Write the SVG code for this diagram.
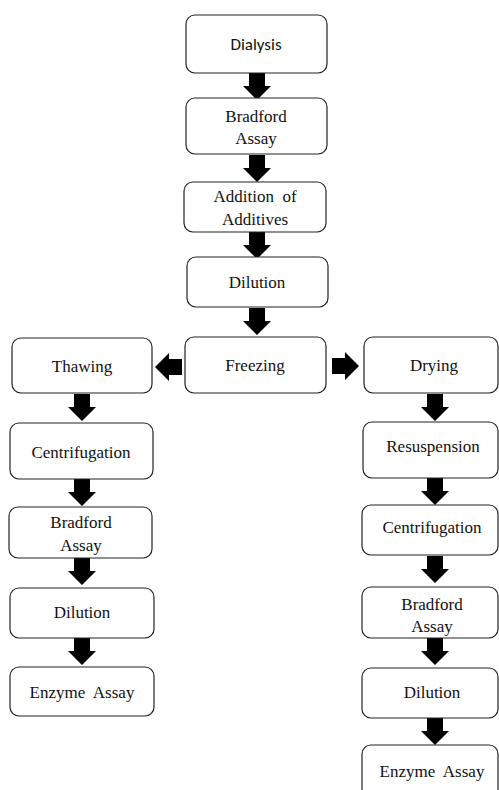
<svg xmlns="http://www.w3.org/2000/svg" width="499" height="790" viewBox="0 0 499 790">
<style>
.box{fill:#fff;stroke:#222;stroke-width:1.2}
.t{font-family:"Liberation Serif","Times New Roman",serif;font-size:17px;fill:#111;text-anchor:middle}
.s{font-family:"Carlito","Liberation Sans",Arial,sans-serif;font-size:17px;fill:#111;text-anchor:middle}
.ar{fill:#000}
</style>
<defs>
<path id="dn" d="M-8,0 H8 V13 H14 L0,27 L-14,13 H-8 Z"/>
</defs>
<rect width="499" height="790" fill="#fff"/>
<g id="connectors">
<use href="#dn" class="ar" x="257" y="73"/>
<use href="#dn" class="ar" x="257" y="155"/>
<use href="#dn" class="ar" x="257" y="232"/>
<use href="#dn" class="ar" x="257" y="308"/>
<use href="#dn" class="ar" transform="translate(182,367) rotate(90)"/>
<use href="#dn" class="ar" transform="translate(332,366) rotate(-90)"/>
<use href="#dn" class="ar" x="82" y="394"/>
<use href="#dn" class="ar" x="82" y="479"/>
<use href="#dn" class="ar" x="82" y="558"/>
<use href="#dn" class="ar" x="82" y="638"/>
<use href="#dn" class="ar" x="435" y="394"/>
<use href="#dn" class="ar" x="435" y="478"/>
<use href="#dn" class="ar" x="435" y="556"/>
<use href="#dn" class="ar" x="435" y="638"/>
<use href="#dn" class="ar" x="435" y="718"/>
</g>
<g id="dialysis"><rect class="box" x="186" y="15" width="141" height="58" rx="9"/><text class="s" x="256" y="50">Dialysis</text></g>
<g id="bradford1"><rect class="box" x="186" y="98" width="141" height="56" rx="9"/><text class="t" x="256" y="122">Bradford</text><text class="t" x="256" y="144">Assay</text></g>
<g id="additives"><rect class="box" x="184" y="182" width="142" height="50" rx="9"/><text class="t" x="255" y="202" xml:space="preserve">Addition  of</text><text class="t" x="255" y="225">Additives</text></g>
<g id="dilution1"><rect class="box" x="187" y="257" width="141" height="50" rx="9"/><text class="t" x="257" y="288">Dilution</text></g>
<g id="freezing"><rect class="box" x="185" y="337" width="141" height="56" rx="9"/><text class="t" x="255" y="371">Freezing</text></g>
<g id="thawing"><rect class="box" x="12" y="338" width="140" height="55" rx="9"/><text class="t" x="82" y="372">Thawing</text></g>
<g id="centrifugation1"><rect class="box" x="10" y="423" width="143" height="56" rx="9"/><text class="t" x="81" y="458">Centrifugation</text></g>
<g id="bradford2"><rect class="box" x="9" y="507" width="143" height="51" rx="9"/><text class="t" x="81" y="528">Bradford</text><text class="t" x="81" y="551">Assay</text></g>
<g id="dilution2"><rect class="box" x="10" y="588" width="144" height="50" rx="9"/><text class="t" x="82" y="618">Dilution</text></g>
<g id="enzyme1"><rect class="box" x="10" y="667" width="144" height="49" rx="9"/><text class="t" x="82" y="698" xml:space="preserve">Enzyme  Assay</text></g>
<g id="drying"><rect class="box" x="364" y="337" width="134" height="56" rx="9"/><text class="t" x="434" y="371">Drying</text></g>
<g id="resuspension"><rect class="box" x="363" y="422" width="135" height="56" rx="9"/><text class="t" x="433" y="452">Resuspension</text></g>
<g id="centrifugation2"><rect class="box" x="362" y="505" width="136" height="50" rx="9"/><text class="t" x="432" y="533">Centrifugation</text></g>
<g id="bradford3"><rect class="box" x="362" y="587" width="136" height="51" rx="9"/><text class="t" x="432" y="610">Bradford</text><text class="t" x="432" y="632">Assay</text></g>
<g id="dilution3"><rect class="box" x="362" y="668" width="136" height="50" rx="9"/><text class="t" x="432" y="698">Dilution</text></g>
<g id="enzyme2"><rect class="box" x="362" y="745" width="136" height="60" rx="9"/><text class="t" x="432" y="777" xml:space="preserve">Enzyme  Assay</text></g>
</svg>
